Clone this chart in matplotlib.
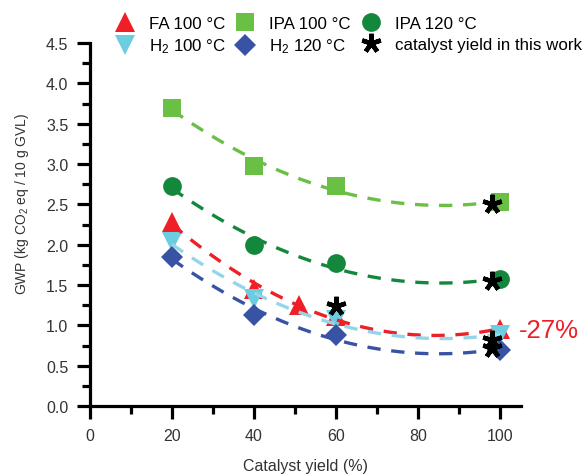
import numpy as np
import matplotlib
matplotlib.use("Agg")
import matplotlib.pyplot as plt
from matplotlib.lines import Line2D
from matplotlib.ticker import MultipleLocator, FormatStrFormatter

plt.rcParams["font.family"] = ["Liberation Sans", "DejaVu Sans"]
plt.rcParams["mathtext.fontset"] = "custom"
plt.rcParams["mathtext.rm"] = "Liberation Sans"
plt.rcParams["mathtext.it"] = "Liberation Sans:italic"

# GWP per catalyst yield for each reaction condition
fa100_x = [20, 40, 51, 60, 100]
fa100_y = [2.28, 1.45, 1.25, 1.12, 0.95]
h2_100_x = [20, 40, 60, 100]
h2_100_y = [2.03, 1.33, 1.07, 0.88]
ipa100_x = [20, 40, 60, 100]
ipa100_y = [3.70, 2.98, 2.73, 2.53]
h2_120_x = [20, 40, 60, 100]
h2_120_y = [1.85, 1.13, 0.88, 0.70]
ipa120_x = [20, 40, 60, 100]
ipa120_y = [2.73, 2.00, 1.77, 1.57]
# catalyst yields obtained in this work
work_x = [60, 98, 98, 98, 98]
work_y = [1.24, 2.51, 1.55, 0.82, 0.72]

series = [
    ("FA 100 °C", fa100_x, fa100_y, "^", "#ee1f26", "#ee1f26", 15),
    ("H$_2$ 100 °C", h2_100_x, h2_100_y, "v", "#6ccde0", "#93d6ea", 15),
    ("IPA 100 °C", ipa100_x, ipa100_y, "s", "#6abf45", "#6abf45", 12.5),
    ("H$_2$ 120 °C", h2_120_x, h2_120_y, "D", "#3953a4", "#3953a4", 11.5),
    ("IPA 120 °C", ipa120_x, ipa120_y, "o", "#13873b", "#13873b", 13.5),
]

fig = plt.figure(figsize=(5.84, 4.77), dpi=100)
ax = fig.add_axes([90 / 584, 1 - 407 / 477, (520.5 - 90) / 584, (407 - 44) / 477])

handles = []
for label, xs, ys, mk, mcol, lcol, ms in series:
    ax.plot(xs, ys, linestyle="none", marker=mk, ms=ms, color=mcol,
            markeredgewidth=0, zorder=2)
    coef = np.polyfit(xs, ys, 2)
    xf = np.linspace(min(xs), max(xs), 200)
    ax.plot(xf, np.polyval(coef, xf), color=lcol, lw=2.4,
            dashes=(4, 3.2), zorder=3)
    handles.append(Line2D([], [], linestyle="none", marker=mk, ms=ms,
                          color=mcol, markeredgewidth=0, label=label))

star = (5, 2, 0)
ax.plot(work_x, work_y, linestyle="none", marker=star, ms=14,
        color="black", markeredgewidth=3.2, zorder=5)
handles.append(Line2D([], [], linestyle="none", marker=star, ms=14,
                      color="black", markeredgewidth=3.2,
                      label="catalyst yield in this work"))

ax.text(104.7, 0.94, "-27%", color="#ee1f26", fontsize=18.5, va="center",
        ha="left", clip_on=False)

ax.set_xlim(0, 105)
ax.set_ylim(0, 4.5)
ax.xaxis.set_major_locator(MultipleLocator(20))
ax.xaxis.set_minor_locator(MultipleLocator(10))
ax.yaxis.set_major_locator(MultipleLocator(0.5))
ax.yaxis.set_minor_locator(MultipleLocator(0.25))
ax.yaxis.set_major_formatter(FormatStrFormatter("%.1f"))

for s in ("top", "right"):
    ax.spines[s].set_visible(False)
for s in ("left", "bottom"):
    ax.spines[s].set_linewidth(2.3)
ax.tick_params(which="major", direction="out", length=9.5, width=2.3,
               labelsize=11.5, labelcolor="#333333", pad=6)
ax.tick_params(which="minor", direction="out", length=5.5, width=2.3)

ax.set_xlabel("Catalyst yield (%)", fontsize=11.5, color="#333333", labelpad=11)
ax.set_ylabel("GWP (kg CO$_2$ eq / 10 g GVL)", fontsize=10, color="#333333")
ax.yaxis.set_label_coords(-0.138, 0.56)

fig.legend(handles=handles, ncol=3, loc="upper left",
           bbox_to_anchor=(111 / 584, 1 - 17 / 477), frameon=False,
           fontsize=12.2, handlelength=1.6, handletextpad=0.62,
           columnspacing=0.36, labelspacing=0.34, borderaxespad=0,
           borderpad=0)

fig.savefig("out.png", dpi=100)
